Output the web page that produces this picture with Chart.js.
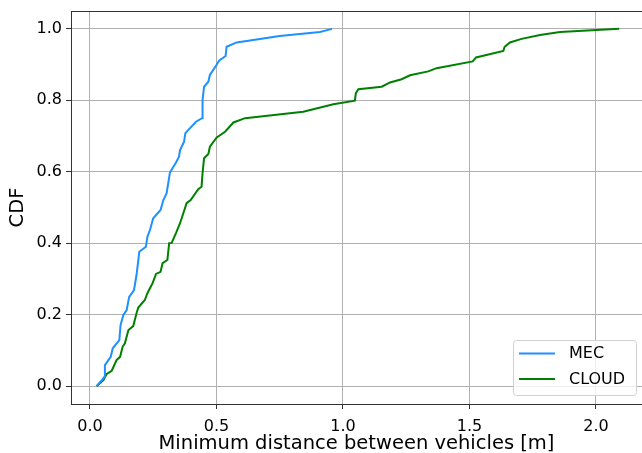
<!DOCTYPE html>
<html>
<head>
<meta charset="utf-8">
<script src="https://cdn.jsdelivr.net/npm/chart.js@4.4.1/dist/chart.umd.min.js"></script>
<style>
  html, body { margin: 0; padding: 0; background: #fff; }
  #wrap { width: 642px; height: 453px; }
</style>
</head>
<body>
<div id="wrap"><canvas id="cdfChart" width="642" height="453"></canvas></div>
<script>
// Datos
const mecX = [0.026, 0.045, 0.057, 0.059, 0.082, 0.090, 0.116, 0.121, 0.132, 0.145, 0.155, 0.174, 0.184, 0.195,
  0.221, 0.227, 0.237, 0.250, 0.279, 0.290, 0.303, 0.316, 0.340, 0.352, 0.356, 0.372, 0.377, 0.419, 0.443,
  0.445, 0.451, 0.468, 0.474, 0.500, 0.510, 0.536, 0.540, 0.580, 0.750, 0.909, 0.957];
const mecY = [0.000, 0.015, 0.026, 0.059, 0.082, 0.106, 0.129, 0.171, 0.199, 0.213, 0.250, 0.269, 0.311, 0.376,
  0.390, 0.418, 0.437, 0.470, 0.493, 0.521, 0.540, 0.598, 0.626, 0.642, 0.661, 0.684, 0.708, 0.740, 0.750,
  0.801, 0.838, 0.852, 0.871, 0.899, 0.911, 0.924, 0.950, 0.962, 0.980, 0.991, 1.000];

const cloudX = [0.026, 0.053, 0.066, 0.086, 0.105, 0.119, 0.129, 0.138, 0.152, 0.171, 0.184, 0.191, 0.217, 0.227,
  0.248, 0.261, 0.279, 0.287, 0.306, 0.313, 0.323, 0.340, 0.356, 0.369, 0.382, 0.398, 0.428, 0.441, 0.445,
  0.451, 0.468, 0.474, 0.501, 0.534, 0.567, 0.613, 0.843, 0.962, 1.047, 1.051, 1.061, 1.153, 1.186, 1.232,
  1.265, 1.337, 1.370, 1.513, 1.526, 1.634, 1.639, 1.660, 1.706, 1.779, 1.858, 2.092];
const cloudY = [0.000, 0.017, 0.034, 0.043, 0.073, 0.082, 0.110, 0.120, 0.157, 0.168, 0.204, 0.220, 0.241, 0.260,
  0.289, 0.314, 0.320, 0.344, 0.353, 0.400, 0.401, 0.428, 0.456, 0.484, 0.512, 0.521, 0.551, 0.558, 0.596,
  0.638, 0.650, 0.670, 0.696, 0.712, 0.738, 0.750, 0.768, 0.789, 0.799, 0.820, 0.831, 0.838, 0.850, 0.859,
  0.870, 0.881, 0.890, 0.909, 0.920, 0.938, 0.950, 0.962, 0.972, 0.983, 0.991, 1.000];

const xTicks = [0.0, 0.5, 1.0, 1.5, 2.0];
const yTicks = [0.0, 0.2, 0.4, 0.6, 0.8, 1.0];
const seriesLabels = ['MEC', 'CLOUD'];
const seriesColors = ['#1e90ff', '#008000'];

const FONT = 'DejaVu Sans';

function toPoints(xs, ys) {
  return xs.map((x, i) => ({ x: x, y: ys[i] }));
}

// Marco completo (arriba y derecha) + leyenda dentro del área
const framePlugin = {
  id: 'frame',
  afterDraw(chart) {
    const { ctx, chartArea: a } = chart;
    ctx.save();
    ctx.strokeStyle = '#333';
    ctx.lineWidth = 1;
    ctx.strokeRect(a.left + 0.5, a.top + 0.5, a.right - a.left, a.bottom - a.top);

    // leyenda
    const bx = 513, by = 340, bw = 123, bh = 55;
    ctx.fillStyle = 'rgba(255,255,255,0.8)';
    ctx.strokeStyle = '#d0d0d0';
    ctx.beginPath();
    ctx.roundRect(bx + 0.5, by + 0.5, bw, bh, 3);
    ctx.fill();
    ctx.stroke();
    ctx.font = '16px "' + FONT + '"';
    ctx.textBaseline = 'middle';
    chart.data.datasets.forEach((ds, i) => {
      const y = by + 13.5 + i * 25.5;
      ctx.strokeStyle = ds.borderColor;
      ctx.lineWidth = 2;
      ctx.beginPath();
      ctx.moveTo(bx + 6, y);
      ctx.lineTo(bx + 42, y);
      ctx.stroke();
      ctx.fillStyle = '#000';
      ctx.fillText(ds.label, bx + 56, y + 0.5);
    });
    ctx.restore();
  }
};

const ctx = document.getElementById('cdfChart').getContext('2d');
const cdfChart = new Chart(ctx, {
  type: 'line',
  data: {
    datasets: [
      {
        label: seriesLabels[0],
        data: toPoints(mecX, mecY),
        borderColor: seriesColors[0],
        borderWidth: 2,
        pointRadius: 0,
        tension: 0,
        fill: false
      },
      {
        label: seriesLabels[1],
        data: toPoints(cloudX, cloudY),
        borderColor: seriesColors[1],
        borderWidth: 2,
        pointRadius: 0,
        tension: 0,
        fill: false
      }
    ]
  },
  options: {
    responsive: false,
    animation: false,
    layout: { padding: { top: 11, right: 0, left: 0, bottom: 0 } },
    plugins: {
      legend: { display: false },
      tooltip: { enabled: false }
    },
    scales: {
      x: {
        type: 'linear',
        min: -0.075,
        max: 2.182,
        afterBuildTicks(scale) {
          scale.ticks = xTicks.map(v => ({ value: v }));
        },
        afterFit(scale) {
          scale.height = 49;
          scale.paddingLeft = 0;
          scale.paddingRight = 0;
        },
        ticks: {
          color: '#000',
          font: { family: FONT, size: 16 },
          padding: 8,
          maxRotation: 0,
          callback: v => v.toFixed(1)
        },
        grid: { color: '#b0b0b0', lineWidth: 1, tickLength: 5, tickColor: '#333' },
        border: { color: '#333', width: 1 },
        title: {
          display: true,
          text: 'Minimum distance between vehicles [m]',
          color: '#000',
          font: { family: FONT, size: 19.5 },
          padding: { top: -3, bottom: -3 }
        }
      },
      y: {
        type: 'linear',
        min: -0.05,
        max: 1.05,
        afterBuildTicks(scale) {
          scale.ticks = yTicks.map(v => ({ value: v }));
        },
        afterFit(scale) {
          scale.width = 71;
          scale.paddingTop = 0;
          scale.paddingBottom = 0;
        },
        ticks: {
          color: '#000',
          font: { family: FONT, size: 16 },
          padding: 4,
          callback: v => v.toFixed(1)
        },
        grid: { color: '#b0b0b0', lineWidth: 1, tickLength: 5, tickColor: '#333' },
        border: { color: '#333', width: 1 },
        title: {
          display: true,
          text: 'CDF',
          color: '#000',
          font: { family: FONT, size: 19.5 },
          padding: { top: 6, bottom: 0 }
        }
      }
    }
  },
  plugins: [framePlugin]
});
</script>
</body>
</html>
